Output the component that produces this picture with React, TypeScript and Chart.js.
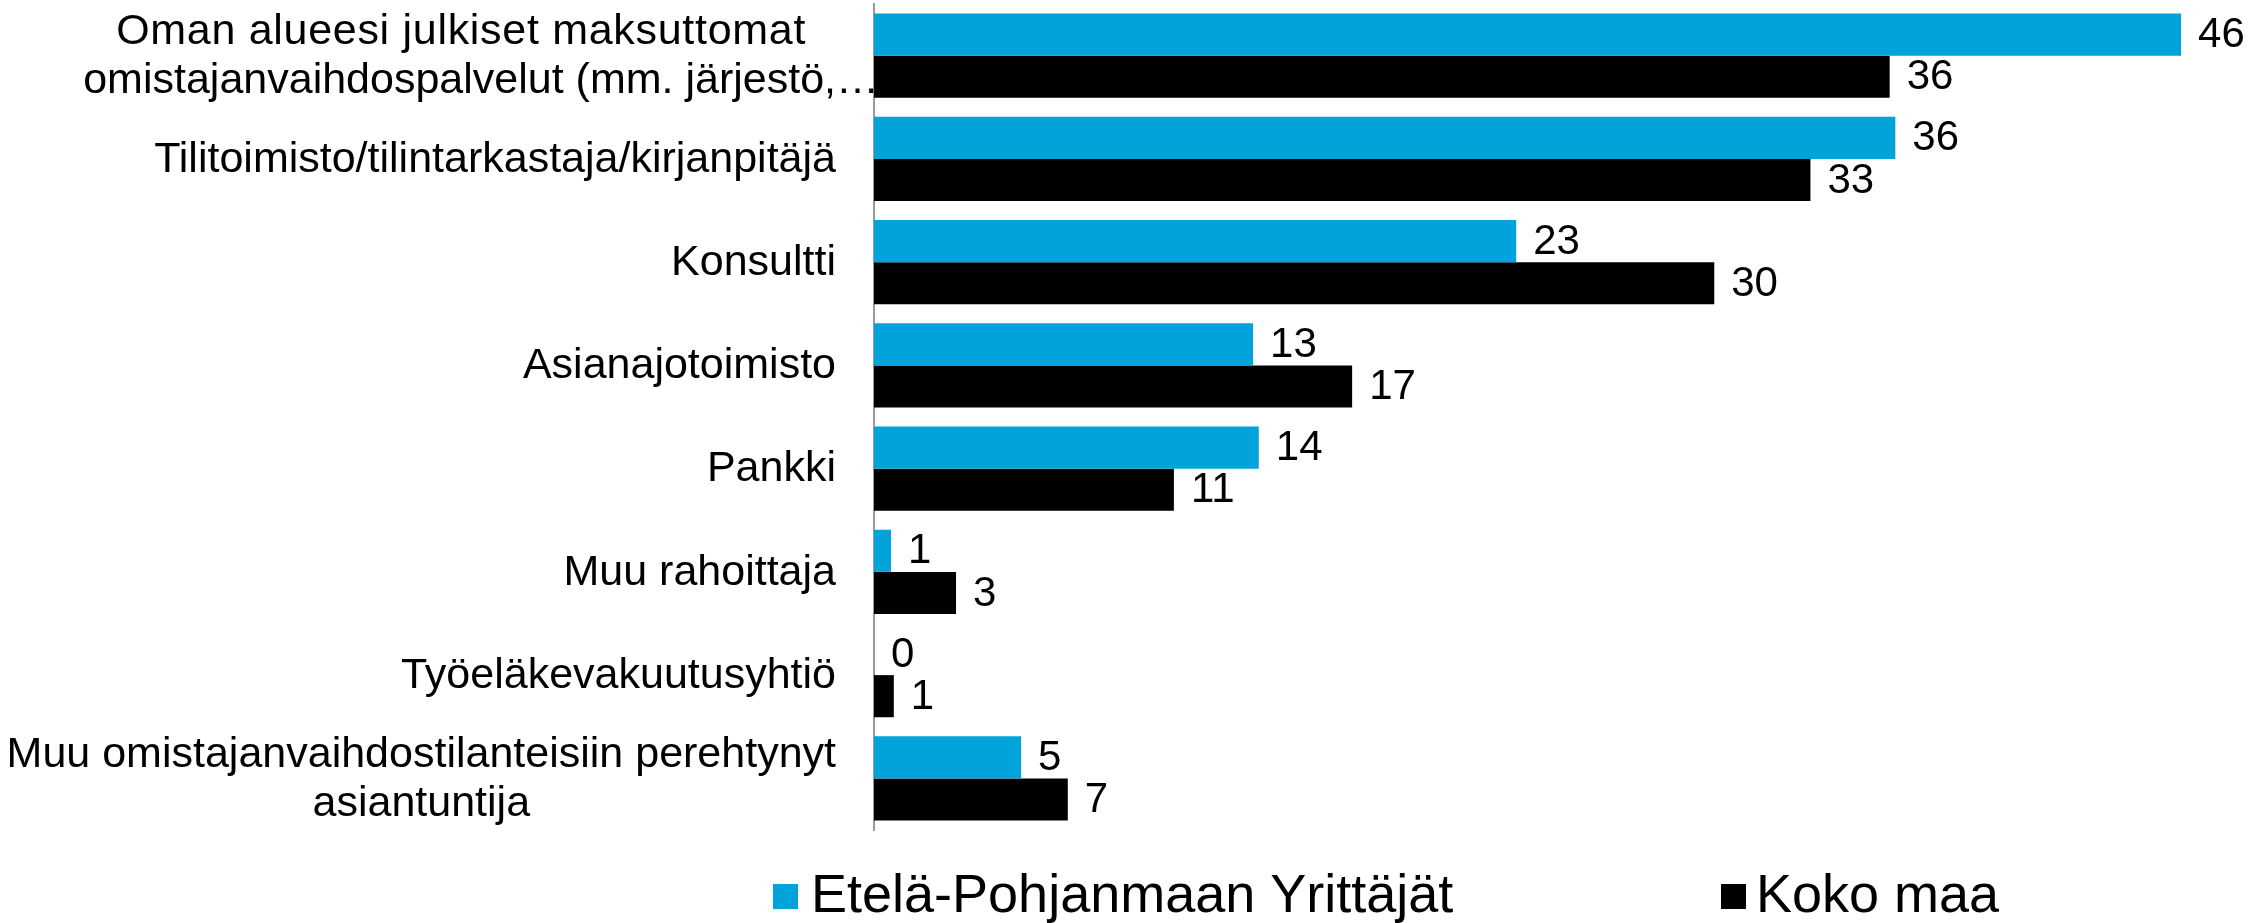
import React, { useEffect, useRef } from 'react';
import { Chart, registerables } from 'chart.js';

Chart.register(...registerables);

// ---- data ----
const categories: string[][] = [
  ['Oman alueesi julkiset maksuttomat', 'omistajanvaihdospalvelut (mm. järjestö,…'],
  ['Tilitoimisto/tilintarkastaja/kirjanpitäjä'],
  ['Konsultti'],
  ['Asianajotoimisto'],
  ['Pankki'],
  ['Muu rahoittaja'],
  ['Työeläkevakuutusyhtiö'],
  ['Muu omistajanvaihdostilanteisiin perehtynyt', 'asiantuntija'],
];
const seriesNames = ['Etelä-Pohjanmaan Yrittäjät', 'Koko maa'];
// values (labels show them rounded)
const etelaPohjanmaa = [46.2, 36.1, 22.7, 13.4, 13.6, 0.6, 0, 5.2];
const kokoMaa = [35.9, 33.1, 29.7, 16.9, 10.6, 2.9, 0.7, 6.85];

// ---- styles ----
const W = 2267;
const H = 923;
const FONT = '"Liberation Sans", Arial, sans-serif';
const COLORS = ['#02A3DA', '#000000'];
const PLOT_LEFT = 874;
const LABEL_RIGHT = 836;
const LABEL_SHIFT = [43, 0, 0, 0, 0, 0, 0, 0];
const LINE_DX: number[][] = [[-20, 0], [0], [0], [0], [0], [0], [0], [0, 0]];
const LINE_SPACING: string[][] = [['0.7px', '0px'], ['0px'], ['0px'], ['0px'], ['0px'], ['0px'], ['0px'], ['0px', '0px']];
const LINE_H = 49;

const labelPlugin = {
  id: 'customLabels',
  afterDraw(chart: any) {
    const ctx = chart.ctx;
    const yScale = chart.scales.y;
    ctx.save();
    // category labels
    ctx.font = `43px ${FONT}`;
    ctx.fillStyle = '#000';
    ctx.textBaseline = 'middle';
    ctx.textAlign = 'center';
    categories.forEach((lines, i) => {
      const cy = yScale.getPixelForValue(i) + 1;
      const widths = lines.map((l) => ctx.measureText(l).width);
      const maxW = Math.max(...widths);
      const cx = LABEL_RIGHT + LABEL_SHIFT[i] - maxW / 2;
      const y0 = cy - ((lines.length - 1) * LINE_H) / 2;
      lines.forEach((l, j) => {
        (ctx as any).letterSpacing = LINE_SPACING[i][j];
        ctx.fillText(l, cx + LINE_DX[i][j], y0 + j * LINE_H);
      });
    });
    (ctx as any).letterSpacing = '0px';
    // value labels
    ctx.font = `42px ${FONT}`;
    ctx.textAlign = 'left';
    chart.data.datasets.forEach((ds: any, di: number) => {
      const meta = chart.getDatasetMeta(di);
      meta.data.forEach((el: any, i: number) => {
        ctx.fillText(String(Math.round(ds.data[i])), el.x + 17, el.y + 1);
      });
    });
    // legend
    ctx.font = `54px ${FONT}`;
    const legendItems = [
      { sq: 773, tx: 811 },
      { sq: 1721, tx: 1756 },
    ];
    legendItems.forEach((it, i) => {
      ctx.fillStyle = COLORS[i];
      ctx.fillRect(it.sq, 884, 25, 25);
      ctx.fillStyle = '#000';
      ctx.fillText(seriesNames[i], it.tx, 897);
    });
    ctx.restore();
  },
};

export default function App() {
  const ref = useRef<HTMLCanvasElement>(null);
  useEffect(() => {
    document.body.style.margin = '0';
    const chart = new Chart(ref.current as HTMLCanvasElement, {
      type: 'bar',
      data: {
        labels: categories.map((c) => c.join(' ')),
        datasets: [
          {
            label: seriesNames[0],
            data: etelaPohjanmaa,
            backgroundColor: COLORS[0],
            categoryPercentage: 0.816,
            barPercentage: 1,
          },
          {
            label: seriesNames[1],
            data: kokoMaa,
            backgroundColor: COLORS[1],
            categoryPercentage: 0.816,
            barPercentage: 1,
          },
        ],
      },
      options: {
        indexAxis: 'y',
        responsive: false,
        animation: false,
        devicePixelRatio: 1,
        layout: { padding: { top: 4, bottom: H - 830, right: 35, left: 0 } },
        plugins: {
          legend: { display: false },
          tooltip: { enabled: false },
        },
        scales: {
          x: { display: false, min: 0, max: 48 },
          y: {
            afterFit(scale: any) {
              scale.width = PLOT_LEFT;
            },
            ticks: { display: false },
            grid: { display: false },
            border: { display: true, color: '#9a9a9a', width: 2 },
          },
        },
      },
      plugins: [labelPlugin],
    } as any);
    return () => chart.destroy();
  }, []);
  return (
    <div style={{ width: W, height: H, background: '#fff' }}>
      <canvas ref={ref} width={W} height={H} style={{ display: 'block' }} />
    </div>
  );
}
